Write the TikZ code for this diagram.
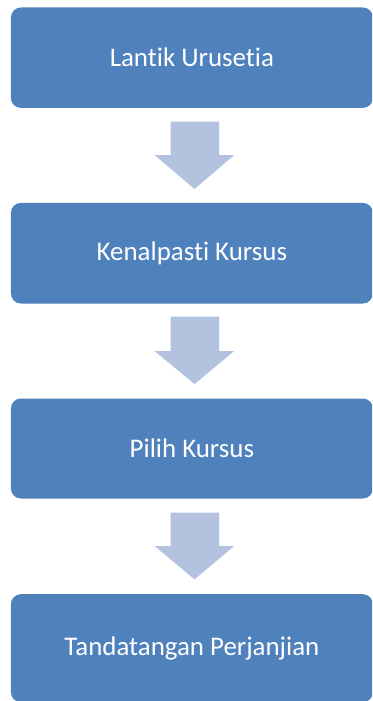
\documentclass[tikz,border=0pt]{standalone}
\usepackage{fontspec}
\setmainfont{Carlito}[Ligatures={NoCommon}]
\definecolor{boxblue}{HTML}{4F81BD}
\definecolor{arrowblue}{HTML}{B3C2DE}
\begin{document}
\begin{tikzpicture}[x=1pt,y=-1pt,
  stepbox/.style={fill=boxblue, draw=none, rounded corners=10pt, text=white, font=\fontsize{26.9}{30}\selectfont},
  blockarrow/.style={fill=arrowblue, draw=none}]
\useasboundingbox (0,0) rectangle (372,701);
\fill[white] (0,0) rectangle (372,701);
\begin{scope}
\clip (0,0) rectangle (372,701);
\node[stepbox, minimum width=362pt, minimum height=100.4pt, anchor=north west, inner sep=0pt] (b1) at (10.7,7.3) {Lantik Urusetia};
\node[stepbox, minimum width=362pt, minimum height=100.6pt, anchor=north west, inner sep=0pt] (b2) at (10.7,202.7) {Kenalpasti Kursus};
\node[stepbox, minimum width=362pt, minimum height=100pt, anchor=north west, inner sep=0pt] (b3) at (10.7,398.3) {Pilih Kursus};
\node[stepbox, minimum width=362pt, minimum height=108pt, anchor=north west, inner sep=0pt] (b4) at (10.7,594) {Tandatangan Perjanjian};
\end{scope}
\foreach \t/\h/\p in {121.7/155/189, 316.7/351/384, 512.7/546/579.3} {
  \fill[blockarrow] (170.7,\t) -- (219,\t) -- (219,\h) -- (234.3,\h) -- (194.5,\p) -- (154.5,\h) -- (170.7,\h) -- cycle;
}
\end{tikzpicture}
\end{document}
